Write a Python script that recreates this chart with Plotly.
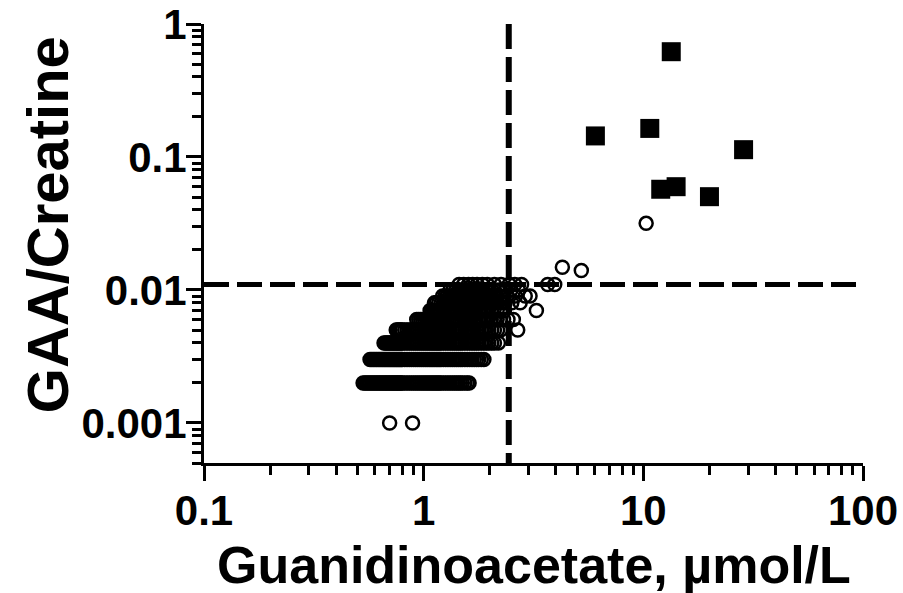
import plotly.graph_objects as go

# ---------------- data ----------------
# Controls (open circles): GAA/Creatine values occur in discrete rows
row_0002 = [0.53,0.54,0.55,0.56,0.57,0.58,0.59,0.60,0.61,0.62,0.63,0.64,0.65,0.66,0.67,0.68,0.69,0.70,0.71,0.72,
            0.73,0.74,0.75,0.76,0.77,0.78,0.79,0.80,0.82,0.84,0.86,0.88,0.90,0.92,0.94,0.96,0.98,1.00,1.02,1.04,
            1.06,1.08,1.10,1.12,1.14,1.16,1.18,1.20,1.23,1.26,1.29,1.32,1.35,1.38,1.41,1.44,1.47,1.50,1.54,1.58,1.61]
row_0003 = [0.57,0.58,0.59,0.60,0.61,0.62,0.63,0.64,0.65,0.66,0.67,0.68,0.69,0.70,0.71,0.72,0.73,0.74,0.75,0.76,
            0.77,0.78,0.79,0.80,0.82,0.84,0.86,0.88,0.90,0.92,0.94,0.96,0.98,1.00,1.02,1.04,1.06,1.08,1.10,1.12,
            1.14,1.16,1.18,1.20,1.23,1.26,1.29,1.32,1.35,1.38,1.41,1.44,1.47,1.50,1.54,1.58,1.62,1.66,1.70,1.74,
            1.78,1.83,1.88]
row_0004 = [0.66,0.67,0.68,0.69,0.70,0.71,0.72,0.73,0.74,0.75,0.76,0.77,0.78,0.79,0.80,0.82,0.84,0.86,0.88,0.90,
            0.92,0.94,0.96,0.98,1.00,1.02,1.04,1.06,1.08,1.10,1.12,1.14,1.16,1.18,1.20,1.23,1.26,1.29,1.32,1.35,
            1.38,1.41,1.44,1.47,1.50,1.54,1.58,1.62,1.66,1.70,1.74,1.78,1.83,1.88,1.93,1.98,2.04,2.10,2.19]
row_0005 = [0.75,0.76,0.77,0.78,0.79,0.80,0.82,0.84,0.86,0.88,0.90,0.92,0.94,0.96,0.98,1.00,1.02,1.04,1.06,1.08,
            1.10,1.12,1.14,1.16,1.18,1.20,1.23,1.26,1.29,1.32,1.35,1.38,1.41,1.44,1.47,1.50,1.54,1.58,1.62,1.66,
            1.70,1.74,1.78,1.83,1.88,1.93,1.98,2.04,2.10,2.17,2.24,2.68]
row_0006 = [0.93,0.95,0.97,0.99,1.01,1.03,1.05,1.07,1.09,1.11,1.13,1.15,1.17,1.19,1.22,1.25,1.28,1.31,1.34,1.37,
            1.40,1.43,1.46,1.49,1.53,1.57,1.61,1.65,1.69,1.73,1.77,1.82,1.87,1.92,1.97,2.03,2.09,2.16,2.23,2.31,
            2.42,2.56]
row_0007 = [1.07,1.09,1.11,1.13,1.15,1.17,1.19,1.22,1.25,1.28,1.31,1.34,1.37,1.40,1.43,1.46,1.49,1.53,1.57,1.61,
            1.65,1.69,1.73,1.77,1.82,1.87,1.92,1.97,2.03,2.09,2.16,2.24,2.33,3.26]
row_0008 = [1.12,1.14,1.17,1.20,1.23,1.26,1.29,1.32,1.35,1.38,1.41,1.44,1.47,1.50,1.54,1.58,1.62,1.66,1.70,1.74,
            1.78,1.83,1.88,1.93,1.98,2.04,2.10,2.17,2.24,2.35,2.52,2.75]
row_0009 = [1.22,1.25,1.28,1.31,1.34,1.37,1.40,1.43,1.46,1.49,1.53,1.57,1.61,1.65,1.69,1.73,1.77,1.82,1.87,1.92,
            1.97,2.03,2.09,2.16,2.24,2.40,2.62,2.90,3.05]
row_0010 = [1.32,1.36,1.40,1.44,1.48,1.52,1.56,1.60,1.64,1.68,1.72,1.77,1.82,1.87,1.92,1.98,2.04,2.10,2.20,2.35,
            2.50,2.70]
row_0011 = [1.45,1.52,1.60,1.67,1.75,1.85,1.95,2.10,2.25,2.45,2.60,2.79,3.67,3.95]
other_ctrl_x = [0.70, 0.89, 4.28, 5.22, 10.3]
other_ctrl_y = [0.001, 0.001, 0.0148, 0.014, 0.0317]

rows = [(0.002, row_0002), (0.003, row_0003), (0.004, row_0004), (0.005, row_0005), (0.006, row_0006),
        (0.007, row_0007), (0.008, row_0008), (0.009, row_0009), (0.010, row_0010), (0.011, row_0011)]

# Patients (filled squares)
patient_x = [13.4, 6.05, 10.7, 28.6, 12.0, 14.1, 20.0]
patient_y = [0.619, 0.144, 0.164, 0.1135, 0.0572, 0.0598, 0.0503]

# Cut-offs (dashed lines)
gaa_cutoff = 2.44
ratio_cutoff = 0.011

x_tick_vals = [0.1, 1, 10, 100]
x_tick_text = ["0.1", "1", "10", "100"]
y_tick_vals = [0.001, 0.01, 0.1, 1]
y_tick_text = ["0.001", "0.01", "0.1", "1"]

# ---------------- build ----------------
ctrl_x, ctrl_y = [], []
for yv, xs in rows:
    ctrl_x += xs
    ctrl_y += [yv] * len(xs)
ctrl_x += other_ctrl_x
ctrl_y += other_ctrl_y

FONT = "Liberation Sans, Arial, sans-serif"

fig = go.Figure()
dash = "25px,8px"
fig.add_trace(go.Scatter(x=[gaa_cutoff, gaa_cutoff], y=[1, 0.0005], mode="lines",
                         line=dict(color="black", width=6, dash=dash), hoverinfo="skip"))
fig.add_trace(go.Scatter(x=[0.1, 100], y=[ratio_cutoff, ratio_cutoff], mode="lines",
                         line=dict(color="black", width=5, dash=dash), hoverinfo="skip"))
fig.add_trace(go.Scatter(x=ctrl_x, y=ctrl_y, mode="markers",
                         marker=dict(symbol="circle-open", size=13, color="black",
                                     line=dict(width=2.5, color="black"))))
fig.add_trace(go.Scatter(x=patient_x, y=patient_y, mode="markers",
                         marker=dict(symbol="square", size=19, color="black",
                                     line=dict(width=0))))

x_minor = [m * d for d in (0.1, 1, 10) for m in range(2, 10)]
y_minor = [m * 0.0001 for m in range(5, 10)] + [m * d for d in (0.001, 0.01, 0.1) for m in range(2, 10)]

axis_common = dict(type="log", showline=True, linecolor="black", linewidth=3,
                   ticks="outside", ticklen=15, tickwidth=3, tickcolor="black",
                   showgrid=False, zeroline=False,
                   tickfont=dict(family=FONT, size=42, color="black", weight="bold"))

fig.update_xaxes(range=[-1, 2], tickmode="array", tickvals=x_tick_vals, ticktext=x_tick_text,
                 ticklabelstandoff=-6,
                 minor=dict(tickmode="array", tickvals=x_minor, ticks="outside", ticklen=9,
                            tickwidth=3, tickcolor="black", showgrid=False),
                 **axis_common)
fig.update_yaxes(range=[-3.30103, 0], tickmode="array", tickvals=y_tick_vals, ticktext=y_tick_text,
                 ticklabelstandoff=-9,
                 minor=dict(tickmode="array", tickvals=y_minor, ticks="outside", ticklen=9,
                            tickwidth=3, tickcolor="black", showgrid=False),
                 **axis_common)

fig.add_annotation(text="Guanidinoacetate, µmol/L", xref="paper", yref="paper",
                   x=0.5, y=-0.232, xanchor="center", yanchor="middle", showarrow=False,
                   borderpad=0,
                   font=dict(family=FONT, size=52, color="black", weight="bold"))
fig.add_annotation(text="GAA/Creatine", xref="paper", yref="paper", textangle=-90,
                   x=-0.238, y=0.542, xanchor="center", yanchor="middle", showarrow=False,
                   borderpad=0,
                   font=dict(family=FONT, size=58, color="black", weight="bold"))

fig.update_layout(width=903, height=593, showlegend=False,
                  plot_bgcolor="white", paper_bgcolor="white",
                  margin=dict(l=204, r=40, t=24, b=130, autoexpand=False))

fig.write_html("out.html", config={"displayModeBar": False},
               post_script="document.body.style.margin='0';")
